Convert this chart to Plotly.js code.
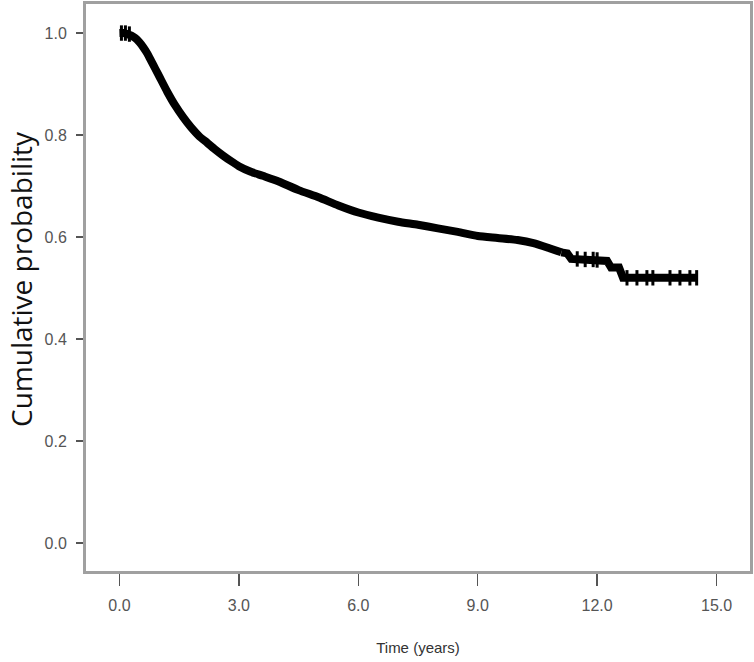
<!DOCTYPE html>
<html>
<head>
<meta charset="utf-8">
<script src="https://cdn.plot.ly/plotly-3.0.1.min.js"></script>
<style>html,body{margin:0;padding:0;background:#fff;}#chart{width:754px;height:662px;}</style>
</head>
<body>
<div id="chart"></div>
<script>
// Kaplan-Meier curve
const timeYears = [0, 0.1, 0.2, 0.3, 0.4, 0.5, 0.6, 0.7, 0.8, 0.9, 1.0, 1.2, 1.4, 1.6, 1.8, 2.0, 2.2, 2.4, 2.6, 2.8, 3.0, 3.3, 3.6, 4.0, 4.5, 5.0, 5.5, 6.0, 6.5, 7.0, 7.5, 8.0, 8.5, 9.0, 9.5, 10.0, 10.4, 10.8, 11.1, 11.25, 11.35, 11.8, 12.1, 12.25, 12.35, 12.55, 12.65, 13.2, 13.8, 14.5];
const survival = [1.0, 1.0, 0.998, 0.995, 0.99, 0.982, 0.972, 0.96, 0.945, 0.93, 0.915, 0.885, 0.858, 0.835, 0.815, 0.798, 0.785, 0.772, 0.76, 0.749, 0.739, 0.728, 0.72, 0.709, 0.692, 0.678, 0.662, 0.648, 0.638, 0.63, 0.624, 0.617, 0.61, 0.602, 0.598, 0.594, 0.588, 0.578, 0.570, 0.568, 0.557, 0.556, 0.555, 0.553, 0.54, 0.54, 0.52, 0.52, 0.52, 0.52];
// censoring marks
const censorTime = [0.05, 0.15, 0.25, 11.5, 11.7, 11.9, 12.0, 12.75, 13.0, 13.25, 13.4, 13.83, 14.08, 14.33, 14.5];
const censorSurv = [1.0, 1.0, 0.998, 0.557, 0.556, 0.556, 0.555, 0.52, 0.52, 0.52, 0.52, 0.52, 0.52, 0.52, 0.52];
const xTicks = [0, 3, 6, 9, 12, 15];
const xTickText = ["0.0", "3.0", "6.0", "9.0", "12.0", "15.0"];
const yTicks = [0, 0.2, 0.4, 0.6, 0.8, 1.0];
const yTickText = ["0.0", "0.2", "0.4", "0.6", "0.8", "1.0"];

// smooth body up to the index where the visible steps begin, straight steps after
const split = timeYears.indexOf(11.1);
const traces = [
  {x: timeYears.slice(0, split + 1), y: survival.slice(0, split + 1), mode: 'lines', line: {color: '#000', width: 8, shape: 'spline', smoothing: 0.6}, hoverinfo: 'skip', showlegend: false},
  {x: timeYears.slice(split), y: survival.slice(split), mode: 'lines', line: {color: '#000', width: 8, shape: 'linear'}, hoverinfo: 'skip', showlegend: false},
  {x: censorTime, y: censorSurv, mode: 'markers', marker: {symbol: 'line-ns', size: 11, line: {color: '#000', width: 3}}, hoverinfo: 'skip', showlegend: false}
];

const axisCommon = {
  showline: true, mirror: true, linecolor: '#a0a0a0', linewidth: 3,
  showgrid: false, zeroline: false, ticks: 'outside', tickcolor: '#555', tickwidth: 1.5,
  tickfont: {family: 'Liberation Sans, Arial, sans-serif', size: 16, color: '#555'}
};

const layout = {
  width: 754, height: 662,
  margin: {l: 86, r: 4, t: 4, b: 91},
  paper_bgcolor: '#fff', plot_bgcolor: '#fff',
  xaxis: Object.assign({}, axisCommon, {
    range: [-0.84, 15.84], tickvals: xTicks, ticktext: xTickText, ticklen: 12, ticklabelstandoff: 6,
    title: {text: 'Time (years)', font: {family: 'Liberation Sans, Arial, sans-serif', size: 15, color: '#333'}, standoff: 30}
  }),
  yaxis: Object.assign({}, axisCommon, {
    range: [-0.055, 1.057], tickvals: yTicks, ticktext: yTickText, ticklen: 7, ticklabelstandoff: 6
  }),
  annotations: [{
    text: 'Cumulative probability', textangle: -90, showarrow: false,
    xref: 'paper', yref: 'paper', x: -0.0979, y: 0.515, xanchor: 'center', yanchor: 'middle',
    borderpad: 0,
    font: {family: 'Open Sans, DejaVu Sans, sans-serif', size: 28, color: '#111'}
  }]
};

Plotly.newPlot('chart', traces, layout, {staticPlot: true, displayModeBar: false});
</script>
</body>
</html>
